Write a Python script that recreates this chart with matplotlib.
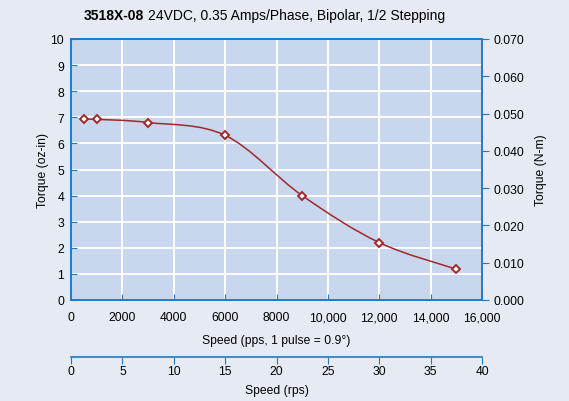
import matplotlib
matplotlib.use("Agg")
import matplotlib.pyplot as plt
from matplotlib.path import Path
from matplotlib.patches import PathPatch
import numpy as np

plt.rcParams['font.family'] = ['Liberation Sans', 'DejaVu Sans']

# dane
predkosc_pps = [500, 1000, 3000, 6000, 9000, 12000, 15000]
moment_ozin = [6.92, 6.92, 6.8, 6.31, 4.0, 2.2, 1.18]
xticks = [0, 2000, 4000, 6000, 8000, 10000, 12000, 14000, 16000]
xtick_labels = ['0', '2000', '4000', '6000', '8000', '10,000', '12,000', '14,000', '16,000']
rps_ticks = [0, 5, 10, 15, 20, 25, 30, 35, 40]
nm_ticks = [0.0, 0.01, 0.02, 0.03, 0.04, 0.05, 0.06, 0.07]

tlo = '#e6ebf3'
pole = '#c8d6ee'
niebieski = '#1b7bc9'
czerwony = '#a3282b'

W, H = 569, 402
fig = plt.figure(figsize=(W / 100, H / 100), dpi=100, facecolor=tlo)
ax = fig.add_axes([71 / W, 1 - 301 / H, 411 / W, 261 / H], facecolor=pole)

ax.set_xlim(0, 16000)
ax.set_ylim(0, 10)
ax.set_xticks(xticks)
ax.set_xticklabels(xtick_labels)
ax.set_yticks(range(0, 11))
ax.grid(True, color='white', linewidth=1.4)
ax.set_axisbelow(True)
for s in ax.spines.values():
    s.set_color(niebieski)
    s.set_linewidth(1.2)
ax.tick_params(axis='both', direction='in', length=4, color=niebieski,
               labelsize=8.7, pad=5)
ax.tick_params(axis='x', pad=8)
ax.set_xlabel('Speed (pps, 1 pulse = 0.9°)', fontsize=8.7, labelpad=8)
ax.set_ylabel('Torque (oz-in)', fontsize=8.7, labelpad=1)

# gladka krzywa (Catmull-Rom jako krzywe Beziera)
pts = np.column_stack([predkosc_pps, moment_ozin]).astype(float)
n = len(pts)
verts = [pts[0]]
codes = [Path.MOVETO]
for i in range(n - 1):
    p0 = pts[max(i - 1, 0)]
    p1 = pts[i]
    p2 = pts[i + 1]
    p3 = pts[min(i + 2, n - 1)]
    verts += [p1 + (p2 - p0) / 6, p2 - (p3 - p1) / 6, p2]
    codes += [Path.CURVE4] * 3
ax.add_patch(PathPatch(Path(verts, codes), fill=False, edgecolor=czerwony,
                       linewidth=1.1, zorder=3))
ax.plot(predkosc_pps, moment_ozin, linestyle='none', marker='D', markersize=4.3,
        markerfacecolor='white', markeredgecolor=czerwony, markeredgewidth=1.4,
        zorder=4)

# prawa os: N-m
ax2 = ax.twinx()
ax2.set_ylim(0, 0.07)
ax2.set_yticks(nm_ticks)
ax2.set_yticklabels([f'{v:.3f}' for v in nm_ticks])
for s in ax2.spines.values():
    s.set_color(niebieski)
    s.set_linewidth(1.2)
ax2.tick_params(axis='y', direction='out', length=5, color=niebieski,
                labelsize=8.7, pad=3)
ax2.set_ylabel('Torque (N-m)', fontsize=8.7, labelpad=8)

# dolna os: rps
sec = ax.secondary_xaxis(-57 / 261, functions=(lambda x: x / 400, lambda x: x * 400))
sec.set_xticks(rps_ticks)
sec.spines['bottom'].set_color(niebieski)
sec.spines['bottom'].set_linewidth(1.2)
sec.tick_params(axis='x', direction='out', length=5, color=niebieski,
                labelsize=8.7, pad=1)
sec.set_xlabel('Speed (rps)', fontsize=8.7, labelpad=5)

# tytul: czesc pogrubiona + zwykla
fig.canvas.draw()
r = fig.canvas.get_renderer()
t1 = fig.text(84 / W, 1 - 16 / H, '3518X-08', fontsize=10, fontweight='bold',
              ha='left', va='center')
bb = t1.get_window_extent(r)
fig.text((bb.x1 + 4) / W, 1 - 16 / H, '24VDC, 0.35 Amps/Phase, Bipolar, 1/2 Stepping',
         fontsize=10, ha='left', va='center')

fig.savefig('out.png', dpi=100, facecolor=tlo)
